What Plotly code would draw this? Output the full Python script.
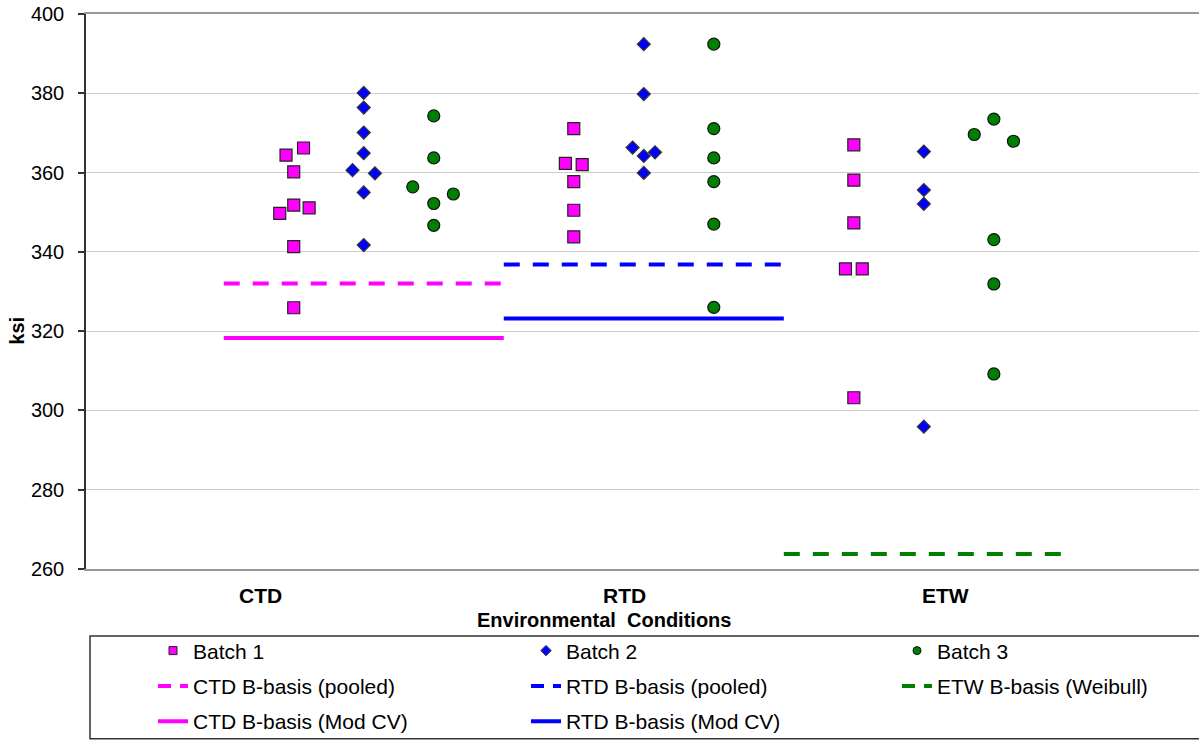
import plotly.graph_objects as go

# ---------------- data ----------------
CATEGORIES = ["CTD", "RTD", "ETW"]

# Batch 1 (squares)
b1_x = [0.89, 1.14, 1.0, 1.0, 0.80, 1.22, 1.0, 1.0,
        5.0, 4.88, 5.12, 5.0, 5.0, 5.0,
        9.0, 9.0, 9.0, 8.88, 9.12, 9.0]
b1_y = [364.4, 366.2, 360.2, 351.8, 349.7, 351.1, 341.3, 325.9,
        371.1, 362.3, 362.0, 357.7, 350.5, 343.8,
        367.0, 358.1, 347.3, 335.7, 335.7, 303.2]

# Batch 2 (diamonds)
b2_x = [2.0, 2.0, 2.0, 2.0, 1.84, 2.16, 2.0, 2.0,
        6.0, 6.0, 5.84, 6.0, 6.16, 6.0,
        10.0, 10.0, 10.0, 10.0]
b2_y = [380.1, 376.4, 370.1, 364.9, 360.6, 359.8, 355.0, 341.7,
        392.4, 379.8, 366.3, 364.2, 365.1, 359.9,
        365.3, 355.6, 352.1, 295.9]

# Batch 3 (circles)
b3_x = [3.0, 3.0, 2.70, 3.28, 3.0, 3.0,
        7.0, 7.0, 7.0, 7.0, 7.0, 7.0,
        10.72, 11.0, 11.28, 11.0, 11.0, 11.0]
b3_y = [374.3, 363.7, 356.4, 354.6, 352.2, 346.7,
        392.4, 371.1, 363.7, 357.7, 347.0, 326.0,
        369.6, 373.5, 367.9, 343.1, 331.9, 309.2]

# B-basis values and their x spans
basis_names = ["CTD B-basis (pooled)", "RTD B-basis (pooled)", "ETW B-basis (Weibull)",
               "CTD B-basis (Mod CV)", "RTD B-basis (Mod CV)"]
basis_values = [332.0, 336.8, 263.8, 318.3, 323.2]
basis_spans = [[0, 4], [4, 8], [8, 12], [0, 4], [4, 8]]

y_ticks = [260, 280, 300, 320, 340, 360, 380, 400]

# ---------------- styles ----------------
FONT = "Liberation Sans, Arial, sans-serif"
MAGENTA = "#FF00FF"
BLUE = "#0000FF"
GREEN = "#008000"

batch_styles = [
    dict(name="Batch 1", x=b1_x, y=b1_y, symbol="square", color=MAGENTA, size=12, lc="#222222", legend="legend"),
    dict(name="Batch 2", x=b2_x, y=b2_y, symbol="diamond", color=BLUE, size=10, lc="#333333", legend="legend2"),
    dict(name="Batch 3", x=b3_x, y=b3_y, symbol="circle", color=GREEN, size=12, lc="#111111", legend="legend3"),
]
basis_styles = [
    dict(color=MAGENTA, dash="16px,13px", ldash="13px,9px", legend="legend"),
    dict(color=BLUE, dash="16px,13px", ldash="13px,9px", legend="legend2"),
    dict(color=GREEN, dash="16px,13px", ldash="13px,9px", legend="legend3"),
    dict(color=MAGENTA, dash="solid", ldash="solid", legend="legend"),
    dict(color=BLUE, dash="solid", ldash="solid", legend="legend2"),
]

fig = go.Figure()

# B-basis lines (drawn first, below markers)
for name, val, span, st in zip(basis_names, basis_values, basis_spans, basis_styles):
    fig.add_trace(go.Scatter(
        x=span, y=[val, val], mode="lines", showlegend=False,
        line=dict(color=st["color"], width=4, dash=st["dash"]),
        hoverinfo="skip"))

# data points
for st in batch_styles:
    fig.add_trace(go.Scatter(
        x=st["x"], y=st["y"], mode="markers", showlegend=False, name=st["name"],
        marker=dict(symbol=st["symbol"], color=st["color"], size=st["size"],
                    line=dict(color=st["lc"], width=1.2))))

# legend-only entries (one vertical legend per column)
for st in batch_styles:
    fig.add_trace(go.Scatter(
        x=[None], y=[None], mode="markers", name=st["name"], legend=st["legend"],
        legendgroup=st["name"],
        marker=dict(symbol=st["symbol"], color=st["color"], size=8,
                    line=dict(color=st["lc"], width=1))))
for name, st in zip(basis_names, basis_styles):
    fig.add_trace(go.Scatter(
        x=[None], y=[None], mode="lines", name=name, legend=st["legend"],
        legendgroup=name,
        line=dict(color=st["color"], width=4, dash=st["ldash"])))

# ---------------- layout ----------------
W, H = 1199, 740
L, T = 86, 14
B = 170.5
plot_w = W - L
plot_h = H - T - B


def px_to_paper_y(py):
    return (H - B - py) / plot_h


def px_to_paper_x(px):
    return (px - L) / plot_w


def legend_at(px_left):
    return dict(
        orientation="v", xanchor="left", yanchor="top",
        x=px_to_paper_x(px_left), y=px_to_paper_y(631),
        bgcolor="rgba(0,0,0,0)", borderwidth=0,
        font=dict(family=FONT, size=21, color="black"),
        traceorder="grouped", tracegroupgap=5,
    )


fig.update_layout(
    width=W, height=H,
    margin=dict(l=L, r=0, t=T, b=B, pad=0, autoexpand=False),
    paper_bgcolor="white", plot_bgcolor="white",
    font=dict(family=FONT, size=20, color="black"),
    xaxis=dict(range=[-1.967, 13.93], showgrid=False, zeroline=False,
               showticklabels=False, ticks="",
               showline=True, mirror=True, linecolor="#999999", linewidth=1.5),
    yaxis=dict(range=[260, 400], tickvals=y_ticks, showgrid=True,
               gridcolor="#CCCCCC", gridwidth=1, zeroline=False,
               ticks="outside", ticklen=6, tickcolor="#333333", tickwidth=1.5,
               showline=True, linecolor="#333333", linewidth=1.5,
               ticklabelstandoff=10,
               tickfont=dict(family=FONT, size=20, color="black")),
    legend=legend_at(153),
    legend2=legend_at(526),
    legend3=legend_at(897),
    showlegend=True,
)

# category labels (text boxes under the plot)
cat_x = [0.53, 5.72, 10.31]
for label, cx in zip(CATEGORIES, cat_x):
    fig.add_annotation(x=cx, xref="x", y=px_to_paper_y(596), yref="paper",
                       text=f"<b>{label}</b>", showarrow=False,
                       xanchor="center", yanchor="middle",
                       font=dict(family=FONT, size=21, color="black"))

fig.add_annotation(x=px_to_paper_x(604), xref="paper", y=px_to_paper_y(621), yref="paper",
                   text="<b>Environmental&nbsp; Conditions</b>", showarrow=False,
                   xanchor="center", yanchor="middle",
                   font=dict(family=FONT, size=20, color="black"))

fig.add_annotation(x=px_to_paper_x(17), xref="paper", y=px_to_paper_y(331), yref="paper",
                   text="<b>ksi</b>", showarrow=False, textangle=-90,
                   xanchor="center", yanchor="middle",
                   font=dict(family=FONT, size=20, color="black"))

# legend frame
fig.add_shape(type="rect", xref="paper", yref="paper",
              x0=px_to_paper_x(90), x1=px_to_paper_x(1215),
              y0=px_to_paper_y(636.5), y1=px_to_paper_y(739.5),
              line=dict(color="#333333", width=1.5), fillcolor="rgba(0,0,0,0)",
              layer="above")

fig.write_html("out.html",
               config={"displayModeBar": False},
               post_script="document.body.style.margin='0px';document.body.style.overflow='hidden';")
